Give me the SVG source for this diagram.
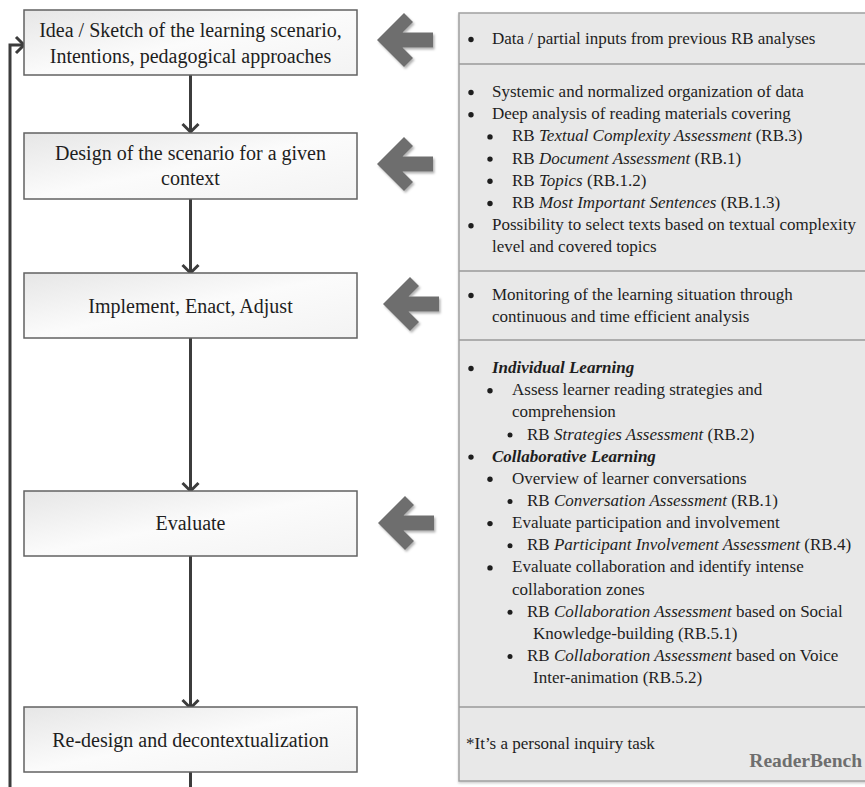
<svg xmlns="http://www.w3.org/2000/svg" width="865" height="787" viewBox="0 0 865 787">
<defs>
<style>
.box{fill:url(#boxgrad);stroke:#626262;stroke-width:1.5}
.bt{font-family:"Liberation Serif","Times New Roman",serif;font-size:20px;fill:#1e1e1e;text-anchor:middle}
.pt{font-family:"Liberation Serif","Times New Roman",serif;font-size:17px;fill:#1e1e1e}
.dot{fill:#1e1e1e}
.i{font-style:italic}
.bi{font-style:italic;font-weight:bold}
.conn{fill:none;stroke:#3c3c3c;stroke-width:3}
.big{fill:#6e6e6e;filter:url(#sh)}
.sep{stroke:#9a9a9a;stroke-width:1.5}
</style>
<linearGradient id="boxgrad" x1="0" y1="0" x2="1" y2="1">
<stop offset="0" stop-color="#e6e6e6"/>
<stop offset="0.5" stop-color="#fbfbfb"/>
<stop offset="1" stop-color="#f3f3f3"/>
</linearGradient>
<filter id="sh" x="-20%" y="-20%" width="140%" height="140%">
<feDropShadow dx="1.5" dy="2" stdDeviation="1.2" flood-color="#000" flood-opacity="0.3"/>
</filter>
<filter id="psh" x="-5%" y="-5%" width="110%" height="110%">
<feDropShadow dx="0" dy="1.5" stdDeviation="1.2" flood-color="#000" flood-opacity="0.2"/>
</filter>
<marker id="open" viewBox="0 0 20 20" markerWidth="20" markerHeight="20" refX="10" refY="10" orient="auto" markerUnits="userSpaceOnUse">
<path d="M2,2 L10,10 L2,18" fill="none" stroke="#3c3c3c" stroke-width="3"/>
</marker>
<polygon id="bigarrow" points="0,0 27,-27 36,-18 25.5,-7.5 56,-7.5 56,7.5 25.5,7.5 36,18 27,27"/>
</defs>

<g id="connectors">
<path class="conn" d="M190.5,75 V132" marker-end="url(#open)"/>
<path class="conn" d="M190.5,199 V273" marker-end="url(#open)"/>
<path class="conn" d="M190.5,338 V491" marker-end="url(#open)"/>
<path class="conn" d="M190.5,556 V708" marker-end="url(#open)"/>
<path class="conn" d="M190.5,772 V787"/>
<path class="conn" d="M10,787 V45 H24" marker-end="url(#open)"/>
</g>

<g id="node-idea">
<rect class="box" x="24" y="10" width="333" height="65"/>
<text class="bt" x="190.5" y="37">Idea / Sketch of the learning scenario,</text>
<text class="bt" x="190.5" y="63">Intentions, pedagogical approaches</text>
</g>
<g id="node-design">
<rect class="box" x="24" y="133" width="333" height="66"/>
<text class="bt" x="190.5" y="160">Design of the scenario for a given</text>
<text class="bt" x="190.5" y="185">context</text>
</g>
<g id="node-implement">
<rect class="box" x="24" y="273" width="333" height="65"/>
<text class="bt" x="190.5" y="313">Implement, Enact, Adjust</text>
</g>
<g id="node-evaluate">
<rect class="box" x="24" y="491" width="333" height="65"/>
<text class="bt" x="190.5" y="530">Evaluate</text>
</g>
<g id="node-redesign">
<rect class="box" x="24" y="707" width="333" height="65"/>
<text class="bt" x="190.5" y="747">Re-design and decontextualization</text>
</g>

<g id="input-arrows">
<use href="#bigarrow" class="big" x="377" y="40"/>
<use href="#bigarrow" class="big" x="377" y="164"/>
<use href="#bigarrow" class="big" x="383" y="304"/>
<use href="#bigarrow" class="big" x="378" y="523"/>
</g>

<g id="readerbench-panel">
<rect x="459" y="13" width="410" height="768" fill="#e8e8e8" stroke="#a0a0a0" stroke-width="1.5" filter="url(#psh)"/>
<line class="sep" x1="459" y1="64" x2="869" y2="64"/>
<line class="sep" x1="459" y1="271" x2="869" y2="271"/>
<line class="sep" x1="459" y1="340" x2="869" y2="340"/>
<line class="sep" x1="459" y1="707" x2="869" y2="707"/>

<g id="sec-data">
<circle class="dot" cx="471" cy="39.5" r="2.7"/>
<text class="pt" x="492" y="44">Data / partial inputs from previous RB analyses</text>
</g>

<g id="sec-design">
<circle class="dot" cx="471" cy="92.5" r="2.7"/>
<text class="pt" x="492" y="97">Systemic and normalized organization of data</text>
<circle class="dot" cx="471" cy="114.7" r="2.7"/>
<text class="pt" x="492" y="119.2">Deep analysis of reading materials covering</text>
<circle class="dot" cx="490" cy="136.9" r="2.7"/>
<text class="pt" x="512" y="141.4">RB <tspan class="i">Textual Complexity Assessment</tspan> (RB.3)</text>
<circle class="dot" cx="490" cy="159.1" r="2.7"/>
<text class="pt" x="512" y="163.6">RB <tspan class="i">Document Assessment</tspan> (RB.1)</text>
<circle class="dot" cx="490" cy="181.3" r="2.7"/>
<text class="pt" x="512" y="185.8">RB <tspan class="i">Topics</tspan> (RB.1.2)</text>
<circle class="dot" cx="490" cy="203.5" r="2.7"/>
<text class="pt" x="512" y="208">RB <tspan class="i">Most Important Sentences</tspan> (RB.1.3)</text>
<circle class="dot" cx="471" cy="225.7" r="2.7"/>
<text class="pt" x="492" y="230.2">Possibility to select texts based on textual complexity</text>
<text class="pt" x="492" y="252.4">level and covered topics</text>
</g>

<g id="sec-implement">
<circle class="dot" cx="471" cy="295.5" r="2.7"/>
<text class="pt" x="492" y="300">Monitoring of the learning situation through</text>
<text class="pt" x="492" y="322">continuous and time efficient analysis</text>
</g>

<g id="sec-evaluate">
<circle class="dot" cx="471" cy="368.5" r="2.7"/>
<text class="pt" x="492" y="373"><tspan class="bi">Individual Learning</tspan></text>
<circle class="dot" cx="490" cy="390.7" r="2.7"/>
<text class="pt" x="512" y="395.2">Assess learner reading strategies and</text>
<text class="pt" x="512" y="417.3">comprehension</text>
<circle class="dot" cx="510" cy="435" r="2.5"/>
<text class="pt" x="527" y="439.5">RB <tspan class="i">Strategies Assessment</tspan> (RB.2)</text>
<circle class="dot" cx="471" cy="457.1" r="2.7"/>
<text class="pt" x="492" y="461.6"><tspan class="bi">Collaborative Learning</tspan></text>
<circle class="dot" cx="490" cy="479.3" r="2.7"/>
<text class="pt" x="512" y="483.8">Overview of learner conversations</text>
<circle class="dot" cx="510" cy="501.4" r="2.5"/>
<text class="pt" x="527" y="505.9">RB <tspan class="i">Conversation Assessment</tspan> (RB.1)</text>
<circle class="dot" cx="490" cy="523.6" r="2.7"/>
<text class="pt" x="512" y="528.1">Evaluate participation and involvement</text>
<circle class="dot" cx="510" cy="545.7" r="2.5"/>
<text class="pt" x="527" y="550.2">RB <tspan class="i">Participant Involvement Assessment</tspan> (RB.4)</text>
<circle class="dot" cx="490" cy="567.9" r="2.7"/>
<text class="pt" x="512" y="572.4">Evaluate collaboration and identify intense</text>
<text class="pt" x="512" y="594.5">collaboration zones</text>
<circle class="dot" cx="510" cy="612.2" r="2.5"/>
<text class="pt" x="527" y="616.7">RB <tspan class="i">Collaboration Assessment</tspan> based on Social</text>
<text class="pt" x="533" y="638.8">Knowledge-building (RB.5.1)</text>
<circle class="dot" cx="510" cy="656.5" r="2.5"/>
<text class="pt" x="527" y="661">RB <tspan class="i">Collaboration Assessment</tspan> based on Voice</text>
<text class="pt" x="533" y="683.1">Inter-animation (RB.5.2)</text>
</g>

<g id="sec-footer">
<text class="pt" x="466" y="749">*It’s a personal inquiry task</text>
<text x="862" y="767" text-anchor="end" font-family="'Liberation Serif','Times New Roman',serif" font-size="19.5" font-weight="bold" fill="#6e6e6e">ReaderBench</text>
</g>
</g>
</svg>
